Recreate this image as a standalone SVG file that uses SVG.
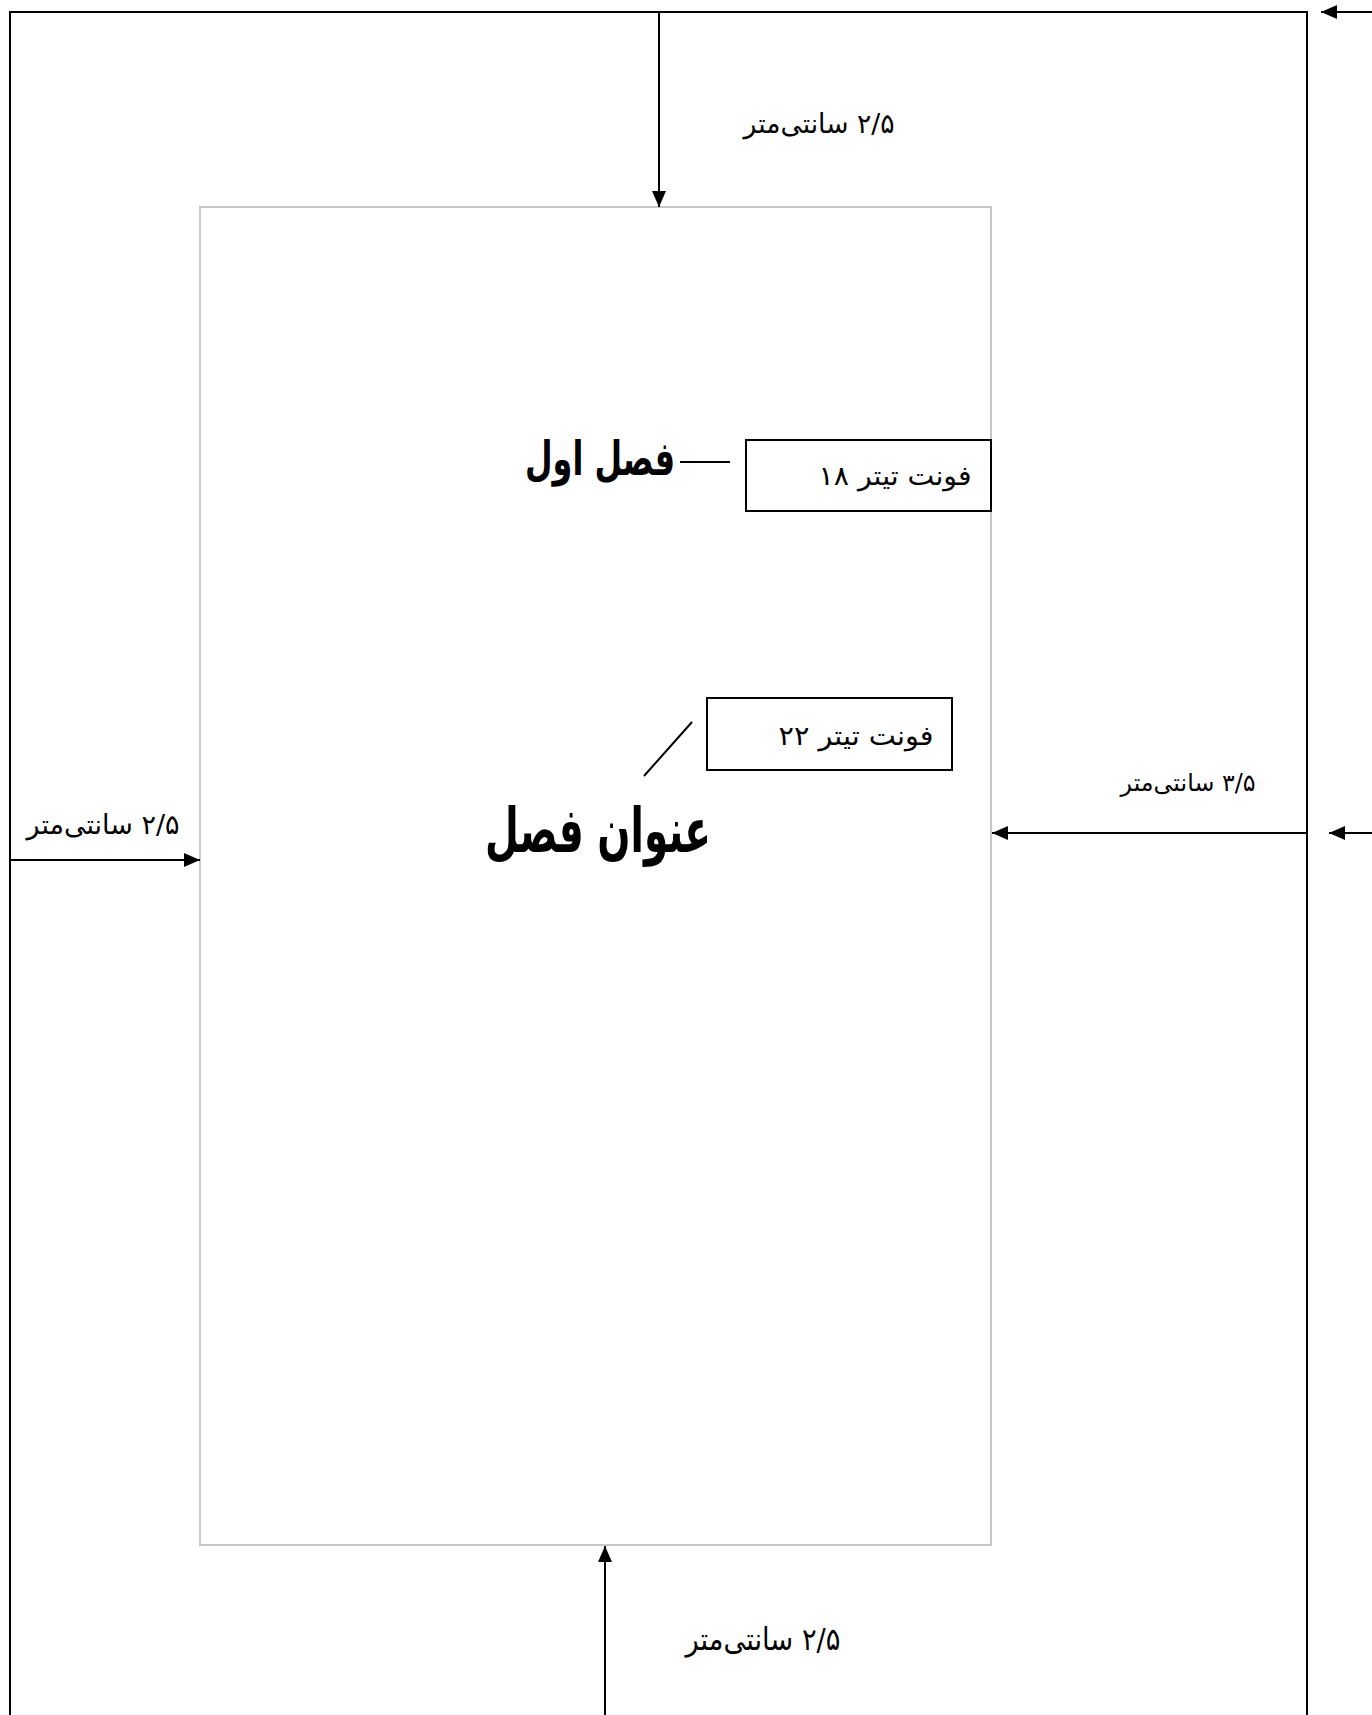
<svg xmlns="http://www.w3.org/2000/svg" width="1372" height="1715" viewBox="0 0 1372 1715">
<style>
.frame{fill:none;stroke:#000;stroke-width:2}
.page{fill:#fff;stroke:#c8c8c8;stroke-width:2}
.box{fill:#fff;stroke:#000;stroke-width:2}
.conn{fill:none;stroke:#000;stroke-width:2}
.lbl{font-family:"DejaVu Sans",sans-serif;font-size:27px;fill:#000}
.big{font-family:"DejaVu Sans",sans-serif;font-weight:bold;fill:#000}
</style>
<defs>
<marker id="ah" viewBox="0 0 16 14" refX="16" refY="7" markerWidth="16" markerHeight="14" markerUnits="userSpaceOnUse" orient="auto">
<path d="M0,0 L16,7 L0,14 Z" fill="#000"/>
</marker>
</defs>
<rect width="1372" height="1715" fill="#fff"/>
<g id="outer-frame">
<path class="frame" d="M10,1716 L10,12 L1307,12 L1307,1716"/>
</g>
<g id="page">
<rect class="page" x="200" y="207" width="791" height="1338"/>
</g>
<g id="connectors">
<line class="conn" x1="659" y1="12" x2="659" y2="207" marker-end="url(#ah)"/>
<line class="conn" x1="605" y1="1715" x2="605" y2="1546" marker-end="url(#ah)"/>
<line class="conn" x1="10" y1="860" x2="200" y2="860" marker-end="url(#ah)"/>
<line class="conn" x1="1307" y1="833" x2="992" y2="833" marker-end="url(#ah)"/>
<line class="conn" x1="1372" y1="12" x2="1321" y2="12" marker-end="url(#ah)"/>
<line class="conn" x1="1372" y1="833" x2="1329" y2="833" marker-end="url(#ah)"/>
<line class="conn" x1="680" y1="462" x2="730" y2="462"/>
<line class="conn" x1="692" y1="722" x2="644" y2="776"/>
</g>
<g id="label-top">
<text class="lbl" x="819" y="133" text-anchor="middle" direction="rtl" textLength="151" lengthAdjust="spacingAndGlyphs">۲/۵ سانتی‌متر</text>
</g>
<g id="label-left">
<text class="lbl" x="103" y="834" text-anchor="middle" direction="rtl" textLength="153" lengthAdjust="spacingAndGlyphs">۲/۵ سانتی‌متر</text>
</g>
<g id="label-right">
<text class="lbl" x="1188" y="791" text-anchor="middle" direction="rtl" textLength="135" lengthAdjust="spacingAndGlyphs" style="font-size:24px">۳/۵ سانتی‌متر</text>
</g>
<g id="label-bottom">
<text class="lbl" x="763" y="1650" text-anchor="middle" direction="rtl" textLength="155" lengthAdjust="spacingAndGlyphs" style="font-size:31px">۲/۵ سانتی‌متر</text>
</g>
<g id="title-chapter">
<text class="big" x="600" y="475" text-anchor="middle" direction="rtl" textLength="150" lengthAdjust="spacingAndGlyphs" style="font-size:47px">فصل اول</text>
</g>
<g id="box-18">
<rect class="box" x="746" y="440" width="245" height="71"/>
<text class="lbl" x="895" y="485" text-anchor="middle" direction="rtl" textLength="153" lengthAdjust="spacingAndGlyphs">فونت تیتر ۱۸</text>
</g>
<g id="box-22">
<rect class="box" x="707" y="698" width="245" height="72"/>
<text class="lbl" x="856" y="745" text-anchor="middle" direction="rtl" textLength="155" lengthAdjust="spacingAndGlyphs">فونت تیتر ۲۲</text>
</g>
<g id="title-heading">
<text class="big" x="598" y="852" text-anchor="middle" direction="rtl" textLength="226" lengthAdjust="spacingAndGlyphs" style="font-size:62px">عنوان فصل</text>
</g>
</svg>
